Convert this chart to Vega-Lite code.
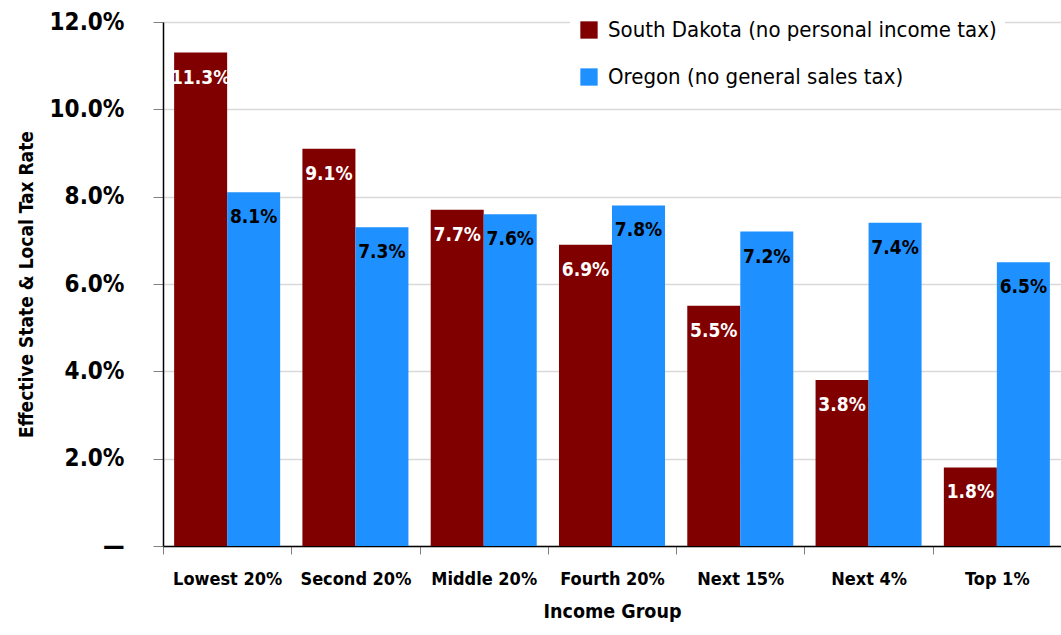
{
  "$schema": "https://vega.github.io/schema/vega-lite/v6.json",
  "width": 898,
  "height": 524,
  "autosize": {"type": "none"},
  "padding": {"left": 163, "top": 22, "right": 0, "bottom": 89},
  "background": "white",
  "config": {
    "view": {"stroke": null},
    "font": "DejaVu Sans Condensed, sans-serif"
  },
  "data": {
    "values": [
      {"group": "Lowest 20%", "state": "South Dakota (no personal income tax)", "rate": 0.113},
      {"group": "Lowest 20%", "state": "Oregon (no general sales tax)", "rate": 0.081},
      {"group": "Second 20%", "state": "South Dakota (no personal income tax)", "rate": 0.091},
      {"group": "Second 20%", "state": "Oregon (no general sales tax)", "rate": 0.073},
      {"group": "Middle 20%", "state": "South Dakota (no personal income tax)", "rate": 0.077},
      {"group": "Middle 20%", "state": "Oregon (no general sales tax)", "rate": 0.076},
      {"group": "Fourth 20%", "state": "South Dakota (no personal income tax)", "rate": 0.069},
      {"group": "Fourth 20%", "state": "Oregon (no general sales tax)", "rate": 0.078},
      {"group": "Next 15%", "state": "South Dakota (no personal income tax)", "rate": 0.055},
      {"group": "Next 15%", "state": "Oregon (no general sales tax)", "rate": 0.072},
      {"group": "Next 4%", "state": "South Dakota (no personal income tax)", "rate": 0.038},
      {"group": "Next 4%", "state": "Oregon (no general sales tax)", "rate": 0.074},
      {"group": "Top 1%", "state": "South Dakota (no personal income tax)", "rate": 0.018},
      {"group": "Top 1%", "state": "Oregon (no general sales tax)", "rate": 0.065}
    ]
  },
  "encoding": {
    "x": {
      "field": "group",
      "type": "nominal",
      "sort": ["Lowest 20%", "Second 20%", "Middle 20%", "Fourth 20%", "Next 15%", "Next 4%", "Top 1%"],
      "scale": {"paddingInner": 0, "paddingOuter": 0},
      "axis": {
        "title": "Income Group",
        "titleFontSize": 19.5,
        "titleFontWeight": "bold",
        "titleColor": "black",
        "titlePadding": 14,
        "labelAngle": 0,
        "labelFontSize": 18,
        "labelFontWeight": "bold",
        "labelColor": "black",
        "labelPadding": 16,
        "tickBand": "extent",
        "tickSize": 8,
        "tickColor": "#808080",
        "domainColor": "black",
        "domainWidth": 1.5
      }
    },
    "xOffset": {
      "field": "state",
      "type": "nominal",
      "sort": ["South Dakota (no personal income tax)", "Oregon (no general sales tax)"],
      "scale": {"paddingInner": 0, "paddingOuter": 0.21}
    },
    "y": {
      "field": "rate",
      "type": "quantitative",
      "scale": {"domain": [0, 0.12], "nice": false},
      "axis": {
        "title": "Effective State & Local Tax Rate",
        "titleFontSize": 19,
        "titleFontWeight": "bold",
        "titleColor": "black",
        "titleX": -127,
        "values": [0, 0.02, 0.04, 0.06, 0.08, 0.1, 0.12],
        "format": ".1%",
        "labelExpr": "datum.value == 0 ? '—' : format(datum.value, '.1%')",
        "labelFontSize": 24,
        "labelFontWeight": "bold",
        "labelColor": "black",
        "labelPadding": 29,
        "tickSize": 10,
        "tickColor": "#808080",
        "gridColor": "#d9d9d9",
        "gridWidth": 1.5,
        "domainColor": "black",
        "domainWidth": 1.5
      }
    }
  },
  "layer": [
    {
      "mark": {"type": "bar"},
      "encoding": {
        "color": {
          "field": "state",
          "type": "nominal",
          "sort": ["South Dakota (no personal income tax)", "Oregon (no general sales tax)"],
          "scale": {"range": ["#800000", "#1e90ff"]},
          "legend": {
            "title": null,
            "orient": "none",
            "legendX": 407,
            "legendY": -11,
            "symbolType": "square",
            "symbolSize": 300,
            "symbolStrokeWidth": 0,
            "symbolOpacity": 1,
            "labelFontSize": 22,
            "labelColor": "black",
            "labelLimit": 500,
            "labelOffset": 8,
            "rowPadding": 25,
            "fillColor": "white",
            "padding": 8
          }
        }
      }
    },
    {
      "mark": {"type": "text", "baseline": "middle", "dy": 25, "fontSize": 19, "fontWeight": "bold"},
      "encoding": {
        "text": {"field": "rate", "type": "quantitative", "format": ".1%"},
        "color": {
          "condition": {"test": "datum.state == 'Oregon (no general sales tax)'", "value": "black"},
          "value": "white"
        }
      }
    }
  ]
}
